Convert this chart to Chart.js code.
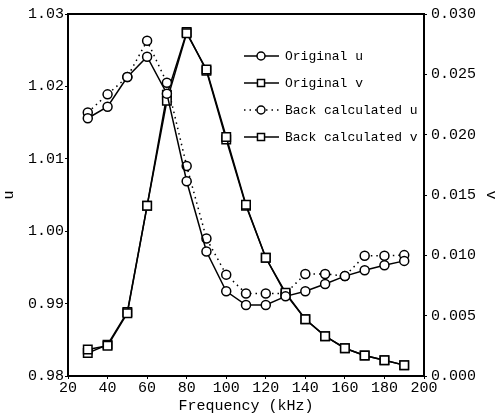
<!DOCTYPE html>
<html>
<head>
<meta charset="utf-8">
<script src="https://cdn.jsdelivr.net/npm/chart.js@4.4.3/dist/chart.umd.min.js"></script>
<style>
  html, body { margin: 0; padding: 0; background: #fff; }
  #wrap { width: 500px; height: 416px; }
</style>
</head>
<body>
<div id="wrap"><canvas id="chart" width="500" height="416"></canvas></div>
<script>
const frequency = [30, 40, 50, 60, 70, 80, 90, 100, 110, 120, 130, 140, 150, 160, 170, 180, 190];
const originalU = [1.0156, 1.0172, 1.0213, 1.0241, 1.0190, 1.0069, 0.9972, 0.9917, 0.9898, 0.9898, 0.9910, 0.9917, 0.9927, 0.9938, 0.9946, 0.9953, 0.9959];
const backCalcU = [1.0164, 1.0189, 1.0213, 1.0263, 1.0205, 1.0090, 0.9990, 0.9940, 0.9914, 0.9914, 0.9914, 0.9941, 0.9941, 0.9938, 0.9966, 0.9966, 0.9967];
const originalV = [0.0022, 0.0025, 0.0052, 0.0141, 0.0228, 0.0284, 0.0254, 0.0198, 0.0142, 0.0098, 0.0069, 0.0047, 0.0033, 0.0023, 0.0017, 0.0013, 0.0009];
const backCalcV = [0.0019, 0.0026, 0.0053, 0.0141, 0.0233, 0.0285, 0.0253, 0.0196, 0.0141, 0.0098, 0.0068, 0.0047, 0.0033, 0.0023, 0.0017, 0.0013, 0.0009];
const seriesNames = ['Original u', 'Original v', 'Back calculated u', 'Back calculated v'];

const FONT = '"Liberation Mono", "DejaVu Sans Mono", monospace';

function toPoints(values) {
    return values.map((v, i) => ({ x: frequency[i], y: v }));
}

function series(label, values, axis, style, dashed) {
    return {
        label,
        data: toPoints(values),
        yAxisID: axis,
        borderColor: '#000',
        borderWidth: 1.5,
        borderDash: dashed ? [1.5, 4] : [],
        pointStyle: style,
        pointRadius: style === 'rect' ? 6 : 4.5,
        pointBorderWidth: 1.5,
        pointBackgroundColor: '#fff',
        pointBorderColor: '#000',
        tension: 0,
        fill: false,
    };
}

// box round the plot
const frame = {
    id: 'frame',
    afterDraw(chart) {
        const { ctx, chartArea: a } = chart;
        ctx.save();
        ctx.strokeStyle = '#000';
        ctx.lineWidth = 2;
        ctx.strokeRect(a.left, a.top, a.right - a.left, a.bottom - a.top);
        ctx.restore();
    },
};

// legend inside the plot, line + open marker + text
const insideLegend = {
    id: 'insideLegend',
    afterDraw(chart) {
        const { ctx } = chart;
        ctx.save();
        ctx.font = '13px ' + FONT;
        ctx.textBaseline = 'middle';
        chart.data.datasets.forEach((ds, i) => {
            const y = 56 + i * 27;
            ctx.strokeStyle = '#000';
            ctx.lineWidth = 1.5;
            ctx.setLineDash(ds.borderDash);
            ctx.beginPath();
            ctx.moveTo(244, y);
            ctx.lineTo(279, y);
            ctx.stroke();
            ctx.setLineDash([]);
            ctx.fillStyle = '#fff';
            Chart.helpers.drawPoint(ctx, {
                pointStyle: ds.pointStyle,
                radius: ds.pointStyle === 'rect' ? 5 : 4,
                borderWidth: 1.5,
            }, 261, y);
            ctx.fillStyle = '#000';
            ctx.fillText(seriesNames[i], 285, y + 1);
        });
        ctx.restore();
    },
};

new Chart(document.getElementById('chart'), {
    type: 'line',
    data: {
        datasets: [
            series(seriesNames[0], originalU, 'y', 'circle', false),
            series(seriesNames[1], originalV, 'y1', 'rect', false),
            series(seriesNames[2], backCalcU, 'y', 'circle', true),
            series(seriesNames[3], backCalcV, 'y1', 'rect', false),
        ],
    },
    options: {
        responsive: false,
        animation: false,
        layout: { padding: { top: 14, bottom: 1 } },
        plugins: {
            legend: { display: false },
            tooltip: { enabled: false },
        },
        scales: {
            x: {
                type: 'linear',
                min: 20,
                max: 200,
                ticks: { stepSize: 20, color: '#000', font: { family: FONT, size: 15 }, padding: 0, maxRotation: 0 },
                grid: { drawOnChartArea: false, tickLength: 3, color: '#000' },
                border: { color: '#000', width: 2 },
                title: { display: true, text: 'Frequency (kHz)', color: '#000', font: { family: FONT, size: 15 }, padding: { top: 0, bottom: 0 } },
            },
            y: {
                position: 'left',
                min: 0.98,
                max: 1.03,
                ticks: {
                    stepSize: 0.01,
                    color: '#000',
                    font: { family: FONT, size: 15 },
                    padding: 1,
                    callback: (v) => v.toFixed(2),
                },
                grid: { drawOnChartArea: false, tickLength: 3, color: '#000' },
                border: { color: '#000', width: 2 },
                title: { display: true, text: 'u', color: '#000', font: { family: FONT, size: 15 }, padding: 0 },
                afterFit(scale) { scale.width = 68; },
            },
            y1: {
                position: 'right',
                min: 0,
                max: 0.03,
                ticks: {
                    stepSize: 0.005,
                    color: '#000',
                    font: { family: FONT, size: 15 },
                    padding: 4,
                    callback: (v) => v.toFixed(3),
                },
                grid: { drawOnChartArea: false, tickLength: 3, color: '#000' },
                border: { color: '#000', width: 2 },
                title: { display: true, text: 'v', color: '#000', font: { family: FONT, size: 15 }, padding: 0 },
                afterFit(scale) { scale.width = 76; },
            },
        },
    },
    plugins: [frame, insideLegend],
});
</script>
</body>
</html>
